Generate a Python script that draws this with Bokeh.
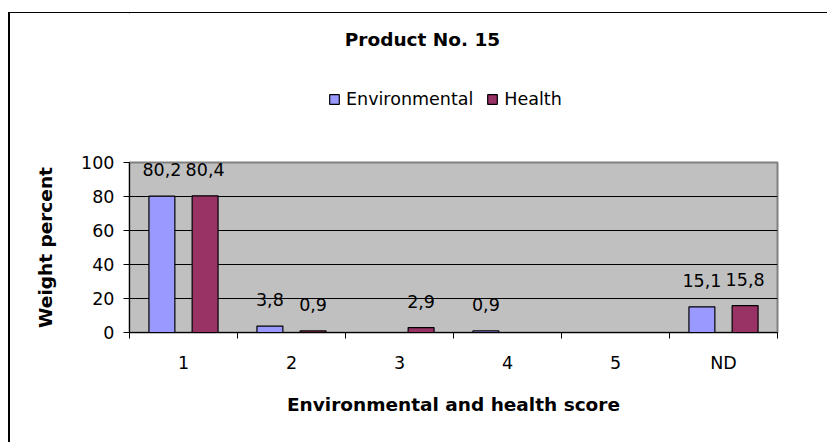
import numpy as np
from bokeh.plotting import figure
from bokeh.layouts import column
from bokeh.models import (ColumnDataSource, LabelSet, Label, Legend, LegendItem,
                          FixedTicker, Range1d)
from bokeh.core.properties import value
from bokeh.embed import file_html
from bokeh.resources import INLINE

# ---- data -------------------------------------------------------------
categories = ["1", "2", "3", "4", "5", "ND"]
environmental = [80.2, 3.8, 0.0, 0.9, 0.0, 15.1]
health = [80.4, 0.9, 2.9, 0.0, 0.0, 15.8]
y_ticks = [0, 20, 40, 60, 80, 100]
series_names = ["Environmental", "Health"]
title_text = "Product No. 15"
x_title = "Environmental and health score"
y_title = "Weight percent"

# ---- style / layout ---------------------------------------------------
FONT = "DejaVu Sans"
ENV_COLOR = "#9999FF"
HEA_COLOR = "#993366"
BAR_W = 0.24
DODGE = 0.2
W = 819
TOP_H = 110
LEFT = 119
RIGHT = 52

n = len(categories)
centers = np.arange(n) + 0.5


def fmt(v):
    return ("%.1f" % v).replace(".", ",")


def series_source(vals, offset):
    xs = list(centers + offset)
    labels = [fmt(v) if v > 0 else "" for v in vals]
    return ColumnDataSource(dict(x=xs, top=list(vals), label=labels))


src_env = series_source(environmental, -DODGE)
src_hea = series_source(health, DODGE)

# ---- header figure: chart title + legend ------------------------------
t = figure(width=W, height=TOP_H, x_range=Range1d(LEFT, W - RIGHT),
           y_range=Range1d(TOP_H, 0),
           output_backend="svg", toolbar_location=None, tools="",
           x_axis_location=None, y_axis_location=None,
           min_border_left=LEFT, min_border_right=RIGHT,
           min_border_top=0, min_border_bottom=0)
t.styles = {"border-left": "2px solid black", "border-top": "1px solid black"}
t.margin = (12, 0, 0, 8)
t.outline_line_color = None
t.background_fill_color = "white"
t.border_fill_color = "white"
t.grid.visible = False

# legend proxies (kept outside the visible header area)
proxy = ColumnDataSource(dict(x=[-10000], top=[0]))
d_env = t.vbar(x="x", top="top", width=1, source=proxy,
               fill_color=ENV_COLOR, line_color="black", line_width=1.2)
d_hea = t.vbar(x="x", top="top", width=1, source=proxy,
               fill_color=HEA_COLOR, line_color="black", line_width=1.2)

t.add_layout(Label(x=412, y=26, text=title_text, text_font=FONT,
                   text_font_style="bold", text_font_size="18.5px",
                   text_align="center", text_baseline="middle",
                   text_color="black"))

legend = Legend(items=[LegendItem(label=series_names[0], renderers=[d_env]),
                       LegendItem(label=series_names[1], renderers=[d_hea])],
                location=(199, 14), orientation="horizontal",
                glyph_width=12, glyph_height=12, label_standoff=6, spacing=13,
                padding=0, margin=0, border_line_alpha=0,
                background_fill_alpha=0,
                label_text_font=FONT, label_text_font_size="17.5px",
                label_text_color="black")
t.add_layout(legend, "center")

# ---- main chart -------------------------------------------------------
p = figure(width=W, height=320, x_range=Range1d(0, n), y_range=Range1d(0, 100),
           output_backend="svg", toolbar_location=None, tools="",
           min_border_left=LEFT, min_border_right=RIGHT,
           min_border_top=40, min_border_bottom=110)
p.styles = {"border-left": "2px solid black"}
p.margin = (0, 0, 0, 8)

p.background_fill_color = "#C0C0C0"
p.border_fill_color = "white"
p.outline_line_color = "#808080"
p.outline_line_width = 2

r_env = p.vbar(x="x", top="top", width=BAR_W, source=src_env,
               fill_color=ENV_COLOR, line_color="black", line_width=1.2)
r_hea = p.vbar(x="x", top="top", width=BAR_W, source=src_hea,
               fill_color=HEA_COLOR, line_color="black", line_width=1.2)

for src in (src_env, src_hea):
    p.add_layout(LabelSet(x="x", y="top", text="label", source=src,
                          text_align="center", text_baseline="alphabetic",
                          y_offset=20, text_font=value(FONT),
                          text_font_size=value("17.5px"), text_color="black"))

p.xgrid.visible = False
p.ygrid.ticker = FixedTicker(ticks=y_ticks[1:-1])
p.ygrid.grid_line_color = "black"
p.ygrid.grid_line_width = 1

xa = p.xaxis[0]
xa.ticker = FixedTicker(ticks=list(centers), minor_ticks=list(range(n + 1)))
xa.major_label_overrides = {float(c): cat for c, cat in zip(centers, categories)}
xa.major_tick_in = 0
xa.major_tick_out = 0
xa.minor_tick_in = 0
xa.minor_tick_out = 6
xa.minor_tick_line_color = "black"
xa.axis_line_color = "black"
xa.major_label_text_font = FONT
xa.major_label_text_font_size = "17.5px"
xa.major_label_text_color = "black"
xa.major_label_standoff = 14
xa.axis_label = x_title
xa.axis_label_text_font = FONT
xa.axis_label_text_font_style = "bold"
xa.axis_label_text_font_size = "18.5px"
xa.axis_label_text_color = "black"
xa.axis_label_standoff = 18

ya = p.yaxis[0]
ya.ticker = FixedTicker(ticks=y_ticks)
ya.major_tick_in = 0
ya.major_tick_out = 6
ya.minor_tick_line_color = None
ya.major_tick_line_color = "black"
ya.axis_line_color = "black"
ya.major_label_text_font = FONT
ya.major_label_text_font_size = "17.5px"
ya.major_label_text_color = "black"
ya.major_label_standoff = 9
ya.axis_label = y_title
ya.axis_label_text_font = FONT
ya.axis_label_text_font_style = "bold"
ya.axis_label_text_font_size = "18.5px"
ya.axis_label_text_color = "black"
ya.axis_label_standoff = 22

layout = column(t, p)
open("out.html", "w").write(file_html(layout, INLINE))
